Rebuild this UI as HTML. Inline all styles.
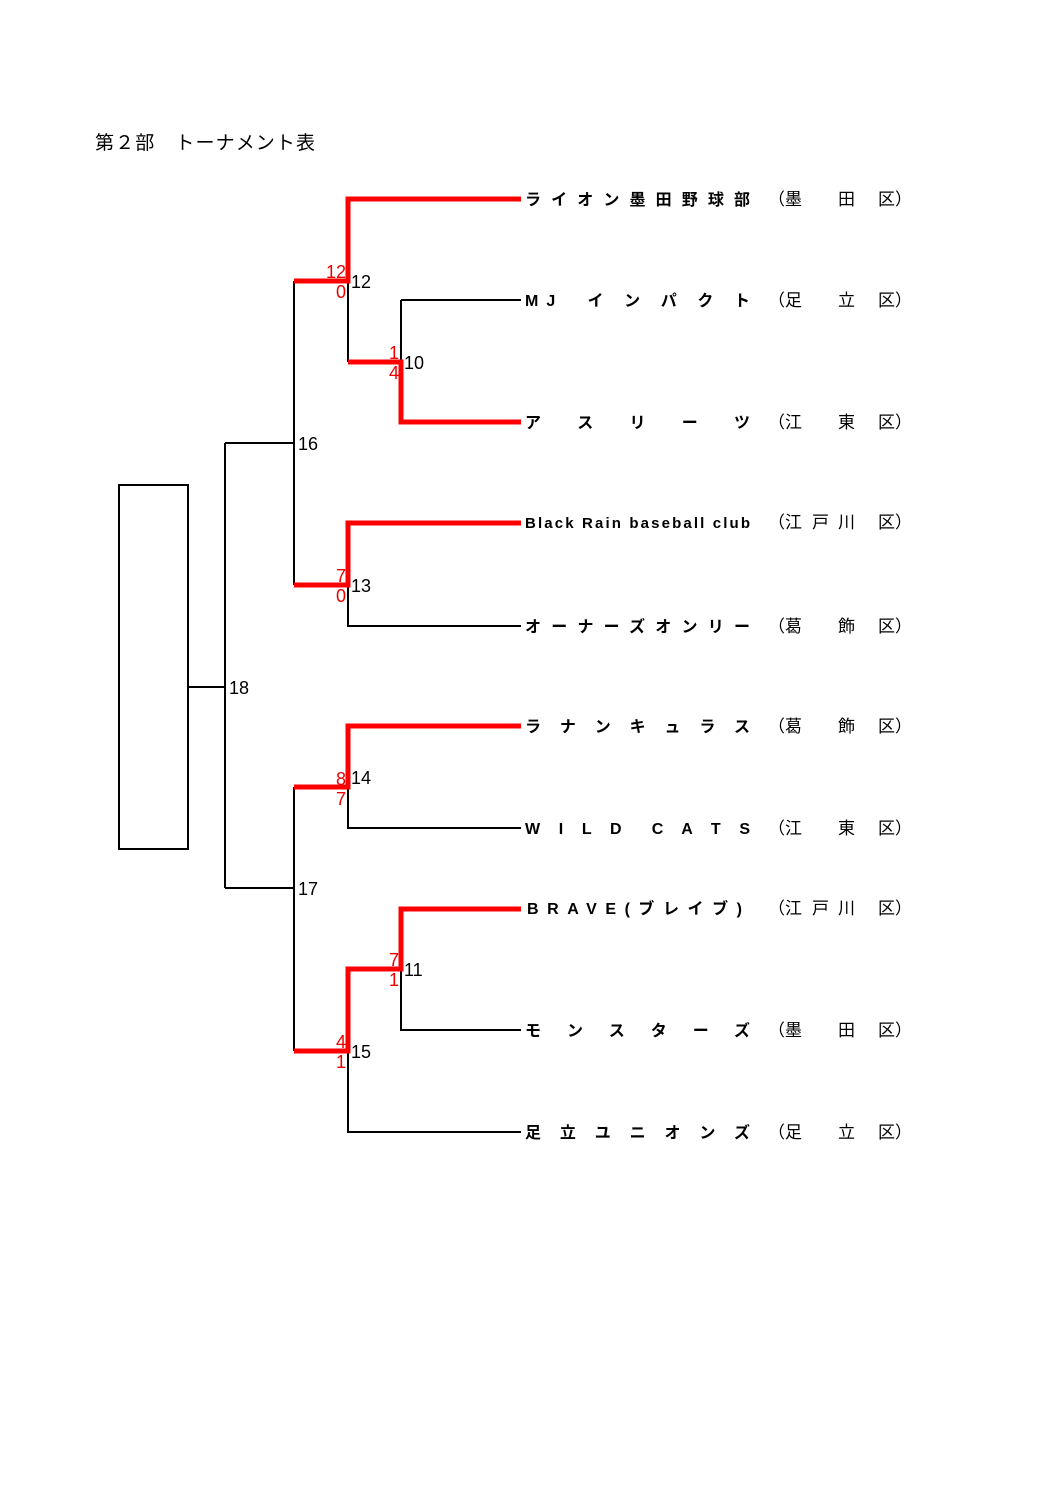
<!DOCTYPE html>
<html><head><meta charset="utf-8"><style>
html,body{margin:0;padding:0;background:#fff;}
svg{display:block;}
text{font-family:"Liberation Sans","Noto Sans CJK JP",sans-serif;}
.t{font-weight:bold;font-size:16px;fill:#000;}
.d{font-size:17px;fill:#000;}
.n{font-size:18px;fill:#000;}
.r{font-size:18px;fill:#e00;}
</style></head><body>
<svg width="1058" height="1497" viewBox="0 0 1058 1497" xmlns="http://www.w3.org/2000/svg">
<text x="95" y="149" style="font-size:19px" textLength="220" lengthAdjust="spacing">第２部　トーナメント表</text>
<rect x="119" y="485" width="69" height="364" fill="none" stroke="#000" stroke-width="2"/>
<g stroke="#000" stroke-width="2" fill="none">
<path d="M401 300H521M401 300V422"/>
<path d="M348 281V362"/>
<path d="M294 281V585M225 443H294"/>
<path d="M348 585V626H521"/>
<path d="M188 687H225M225 443V888"/>
<path d="M348 787V828H521"/>
<path d="M294 787V1051M225 888H294"/>
<path d="M401 969V1030H521"/>
<path d="M348 1051V1132H521"/>
</g>
<g stroke="#f00" stroke-width="5" fill="none" stroke-linejoin="miter">
<path d="M521 199H348V281H294"/>
<path d="M348 362H401V422H521"/>
<path d="M521 523H348V585H294"/>
<path d="M521 726H348V787H294"/>
<path d="M521 909H401V969H348V1051H294"/>
</g>
<g class="n">
<text x="351" y="288">12</text><text x="404" y="369">10</text><text x="298" y="450">16</text>
<text x="351" y="592">13</text><text x="229" y="694">18</text><text x="351" y="784">14</text>
<text x="298" y="895">17</text><text x="404" y="976">11</text><text x="351" y="1058">15</text>
</g>
<g class="r" text-anchor="end">
<text x="346" y="278">12</text><text x="346" y="298">0</text>
<text x="399" y="359">1</text><text x="399" y="379">4</text>
<text x="346" y="582">7</text><text x="346" y="602">0</text>
<text x="346" y="785">8</text><text x="346" y="805">7</text>
<text x="399" y="966">7</text><text x="399" y="986">1</text>
<text x="346" y="1048">4</text><text x="346" y="1068">1</text>
</g>
<g class="t">
<text x="525" y="205" textLength="225" lengthAdjust="spacing">ライオン墨田野球部</text>
<text x="525" y="306" textLength="225" lengthAdjust="spacing">MJ　イ ン パ ク ト</text>
<text x="525" y="428" textLength="225" lengthAdjust="spacing">ア ス リ ー ツ</text>
<text x="525" y="528" style="font-size:15px" textLength="225" lengthAdjust="spacing">Black Rain baseball club</text>
<text x="525" y="632" textLength="225" lengthAdjust="spacing">オーナーズオンリー</text>
<text x="525" y="732" textLength="225" lengthAdjust="spacing">ラナンキュラス</text>
<text x="525" y="834" textLength="225" lengthAdjust="spacing">W I L D　C A T S</text>
<text x="527" y="914" textLength="215" lengthAdjust="spacing">BRAVE(ブレイブ)</text>
<text x="525" y="1036" textLength="225" lengthAdjust="spacing">モンスターズ</text>
<text x="525" y="1138" textLength="225" lengthAdjust="spacing">足立ユニオンズ</text>
</g>
<g class="d">
<text x="768" y="205">（</text><text x="785" y="205">墨</text><text x="838" y="205">田</text><text x="878" y="205">区）</text>
<text x="768" y="306">（</text><text x="785" y="306">足</text><text x="838" y="306">立</text><text x="878" y="306">区）</text>
<text x="768" y="428">（</text><text x="785" y="428">江</text><text x="838" y="428">東</text><text x="878" y="428">区）</text>
<text x="768" y="528">（</text><text x="785" y="528">江</text><text x="812" y="528">戸</text><text x="838" y="528">川</text><text x="878" y="528">区）</text>
<text x="768" y="632">（</text><text x="785" y="632">葛</text><text x="838" y="632">飾</text><text x="878" y="632">区）</text>
<text x="768" y="732">（</text><text x="785" y="732">葛</text><text x="838" y="732">飾</text><text x="878" y="732">区）</text>
<text x="768" y="834">（</text><text x="785" y="834">江</text><text x="838" y="834">東</text><text x="878" y="834">区）</text>
<text x="768" y="914">（</text><text x="785" y="914">江</text><text x="812" y="914">戸</text><text x="838" y="914">川</text><text x="878" y="914">区）</text>
<text x="768" y="1036">（</text><text x="785" y="1036">墨</text><text x="838" y="1036">田</text><text x="878" y="1036">区）</text>
<text x="768" y="1138">（</text><text x="785" y="1138">足</text><text x="838" y="1138">立</text><text x="878" y="1138">区）</text>
</g>
</svg>
</body></html>
